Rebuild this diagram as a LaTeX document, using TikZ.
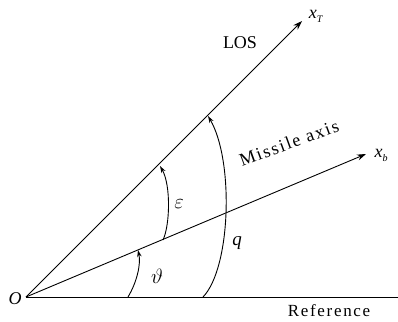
\documentclass[tikz,border=0pt]{standalone}
\usepackage{fontspec}
\setmainfont{Liberation Serif}
\newfontfamily\spaced[LetterSpace=10]{Liberation Serif}
\usetikzlibrary{arrows.meta}
\begin{document}
\begin{tikzpicture}[x=1pt,y=-1pt,
  axisline/.style={line width=0.9pt,-{Stealth[length=9pt,width=6pt]}},
  angarc/.style={line width=0.9pt,-{Stealth[length=7pt,width=4.5pt]}},
  lbl/.style={inner sep=0pt,font=\fontsize{18}{20}\selectfont}]
\useasboundingbox (0,0) rectangle (398,321);
\coordinate (O) at (26,297);
\coordinate (R) at (398,297);
\coordinate (xT) at (302,21);
\coordinate (xb) at (366,154);
\coordinate (t1) at (128,297);
\coordinate (t2) at (138,250);
\coordinate (e1) at (163,240);
\coordinate (e2) at (160,166);
\coordinate (q1) at (203,297);
\coordinate (q2) at (208,116);
\draw[line width=0.9pt] (O) -- (R);
\draw[axisline] (O) -- (xT);
\draw[axisline] (O) -- (xb);
\draw[angarc] (t1) .. controls (137,282) and (141,264) .. (t2);
\draw[angarc] (e1) .. controls (170,225) and (171,185) .. (e2);
\draw[angarc] (q1) .. controls (231,268) and (234,160) .. (q2);
\node[lbl] (lO) at (15,299) {\textit{O}};
\node[lbl] (lLOS) at (240,43) {LOS};
\node[lbl] (lxT) at (316,16) {\textit{x}\raisebox{-4pt}{\fontsize{10}{10}\selectfont\textit{T}}};
\node[lbl] (lxb) at (381,155) {\textit{x}\raisebox{-4pt}{\fontsize{10}{10}\selectfont\textit{b}}};
\node[lbl,rotate=20,font=\spaced\fontsize{18}{20}\selectfont] (lMA) at (289,143) {Missile axis};
\node[lbl,font=\spaced\fontsize{17}{20}\selectfont] (lRef) at (329,311) {Reference};
\node[lbl,font=\fontsize{21}{22}\selectfont] (leps) at (179,204) {$\varepsilon$};
\node[lbl,font=\fontsize{21}{22}\selectfont] (lth) at (157,276) {$\vartheta$};
\node[lbl,font=\fontsize{19}{20}\selectfont] (lq) at (237,243) {\textit{q}};
\end{tikzpicture}
\end{document}
